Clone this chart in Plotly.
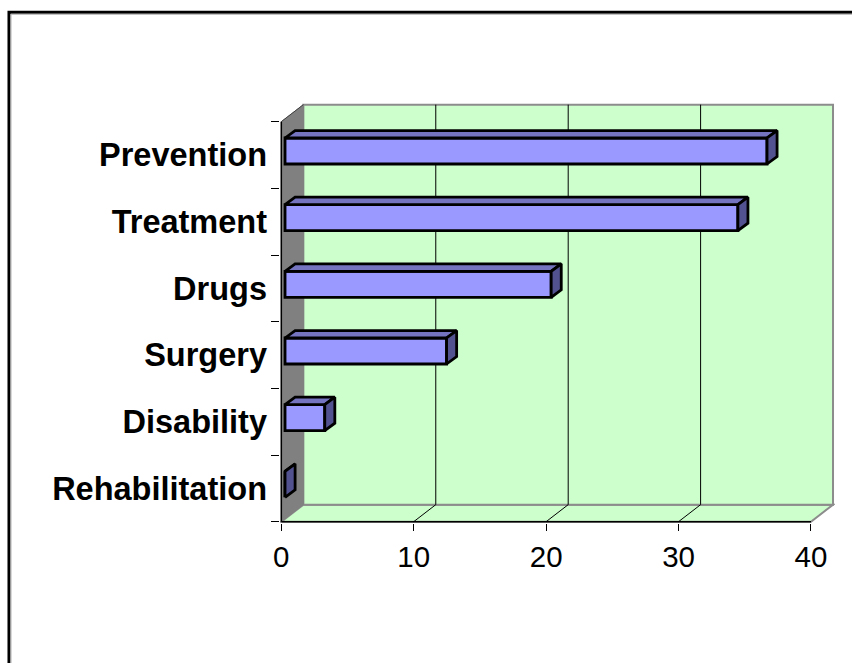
import plotly.graph_objects as go

# ---------------- data ----------------
categories = ["Rehabilitation", "Disability", "Surgery", "Drugs", "Treatment", "Prevention"]
values = [0.0, 3.0, 12.2, 20.1, 34.2, 36.4]
x_tick_values = [0, 10, 20, 30, 40]
x_tick_labels = ["0", "10", "20", "30", "40"]

# ---------------- geometry / style ----------------
XMAX = 40
NCAT = len(categories)
DX, DY = 1.664, 0.255          # 3-D depth of walls, in axis units
BAR_X0 = 0.28                  # bar front-face start (depth offset)
BAR_YOFF = 0.06
BAR_W = 0.39
BDX, BDY = 0.76, 0.112         # bar depth

PX0, SX = 281.7, 13.225        # pixel of x=0, px per unit
PY0, SY = 522.0, 400.0 / 6     # pixel of y=0, px per unit
W, H = 852, 663
xr = [-0.1, XMAX + DX + 0.15]
yr = [-0.02, NCAT + DY + 0.04]
ml = PX0 + xr[0] * SX
mr = W - (PX0 + xr[1] * SX)
mt = PY0 - yr[1] * SY
mb = H - (PY0 - yr[0] * SY)
pw = W - ml - mr
ph = H - mt - mb

FRONT = "#9999FF"
TOP = "#7474C0"
SIDE = "#525290"
WALL = "#CCFFCC"
SIDEWALL = "#808080"
EDGE = "#8C8C8C"
FONT = "Arial, Liberation Sans, sans-serif"
OUTLINE = 2.8


def path(pts):
    return "M " + " L ".join(f"{x},{y}" for x, y in pts) + " Z"


shapes = []
# floor
shapes.append(dict(type="path", xref="x", yref="y", layer="below",
                   path=path([(0, 0), (XMAX, 0), (XMAX + DX, DY), (DX, DY)]),
                   fillcolor=WALL, line=dict(color=EDGE, width=2)))
# back wall
shapes.append(dict(type="path", xref="x", yref="y", layer="below",
                   path=path([(DX, DY), (XMAX + DX, DY), (XMAX + DX, NCAT + DY), (DX, NCAT + DY)]),
                   fillcolor=WALL, line=dict(color=EDGE, width=2)))
# side (left) wall
shapes.append(dict(type="path", xref="x", yref="y", layer="below",
                   path=path([(0, 0), (DX, DY), (DX, NCAT + DY), (0, NCAT)]),
                   fillcolor=SIDEWALL, line=dict(color=SIDEWALL, width=1)))
shapes.append(dict(type="line", xref="x", yref="y", layer="below",
                   x0=0, y0=NCAT, x1=DX, y1=NCAT + DY, line=dict(color="#404040", width=1)))
# gridlines
for v in x_tick_values[1:-1]:
    shapes.append(dict(type="line", xref="x", yref="y", layer="below",
                       x0=v + DX, y0=DY, x1=v + DX, y1=NCAT + DY, line=dict(color="black", width=1)))
    shapes.append(dict(type="line", xref="x", yref="y", layer="below",
                       x0=v, y0=0, x1=v + DX, y1=DY, line=dict(color="black", width=1)))
# front axis lines
shapes.append(dict(type="line", xref="x", yref="y", layer="below",
                   x0=0, y0=0, x1=XMAX, y1=0, line=dict(color="black", width=1.5)))
shapes.append(dict(type="line", xref="x", yref="y", layer="below",
                   x0=0, y0=0, x1=0, y1=NCAT, line=dict(color="black", width=1.5)))


# outer chart border (pixels -> paper)
def px2paper(px, py):
    return (px - ml) / pw, 1 - (py - mt) / ph


bx0, by0 = px2paper(9.7, 12.5)
bx1, by1 = px2paper(900, 720)
shapes.append(dict(type="rect", xref="paper", yref="paper", x0=bx0, y0=by0, x1=bx1, y1=by1,
                   line=dict(color="black", width=3), layer="above"))
gx0, gy0 = px2paper(11.7, 14.6)
shapes.append(dict(type="rect", xref="paper", yref="paper", x0=gx0, y0=gy0, x1=bx1, y1=by1,
                   line=dict(color="#B0B0B0", width=1), layer="above"))

fig = go.Figure()

centers = [i + 0.5 + BAR_YOFF for i in range(NCAT)]

# front faces
fig.add_trace(go.Bar(orientation="h", y=centers, x=values, base=BAR_X0, width=BAR_W,
                     marker=dict(color=FRONT, line=dict(color="black", width=OUTLINE)),
                     showlegend=False, hoverinfo="skip"))

# top and side faces
tx, ty, sx, sy = [], [], [], []
for c, v in zip(centers, values):
    yb, yt = c - BAR_W / 2, c + BAR_W / 2
    xe = BAR_X0 + v
    tx += [BAR_X0, xe, xe + BDX, BAR_X0 + BDX, BAR_X0, None]
    ty += [yt, yt, yt + BDY, yt + BDY, yt, None]
    sx += [xe, xe, xe + BDX, xe + BDX, xe, None]
    sy += [yb, yt, yt + BDY, yb + BDY, yb, None]

fig.add_trace(go.Scatter(x=tx, y=ty, mode="lines", fill="toself", fillcolor=TOP,
                         line=dict(color="black", width=OUTLINE), showlegend=False, hoverinfo="skip"))
fig.add_trace(go.Scatter(x=sx, y=sy, mode="lines", fill="toself", fillcolor=SIDE,
                         line=dict(color="black", width=OUTLINE), showlegend=False, hoverinfo="skip"))

fig.update_layout(
    width=W, height=H,
    margin=dict(l=ml, r=mr, t=mt, b=mb, pad=0),
    paper_bgcolor="white", plot_bgcolor="white",
    shapes=shapes,
    showlegend=False,
    xaxis=dict(range=xr, showgrid=False, zeroline=False, showline=False,
               tickmode="array", tickvals=x_tick_values, ticktext=x_tick_labels,
               ticks="outside", ticklen=7, tickwidth=1, tickcolor="black",
               tickfont=dict(family=FONT, size=29.5, color="black"),
               ticklabelstandoff=1, automargin=False, fixedrange=True),
    yaxis=dict(range=yr, showgrid=False, zeroline=False, showline=False,
               tickmode="array", tickvals=[i + 0.5 for i in range(NCAT)], ticktext=categories,
               ticks="", ticklen=0,
               minor=dict(tickmode="array", tickvals=list(range(NCAT + 1)), ticks="outside",
                          ticklen=8, tickwidth=1, tickcolor="black", showgrid=False),
               tickfont=dict(family=FONT, size=32.5, color="black", weight="bold"),
               ticklabelstandoff=12, automargin=False, fixedrange=True),
)

fig.write_html("out.html", config={"displayModeBar": False})
